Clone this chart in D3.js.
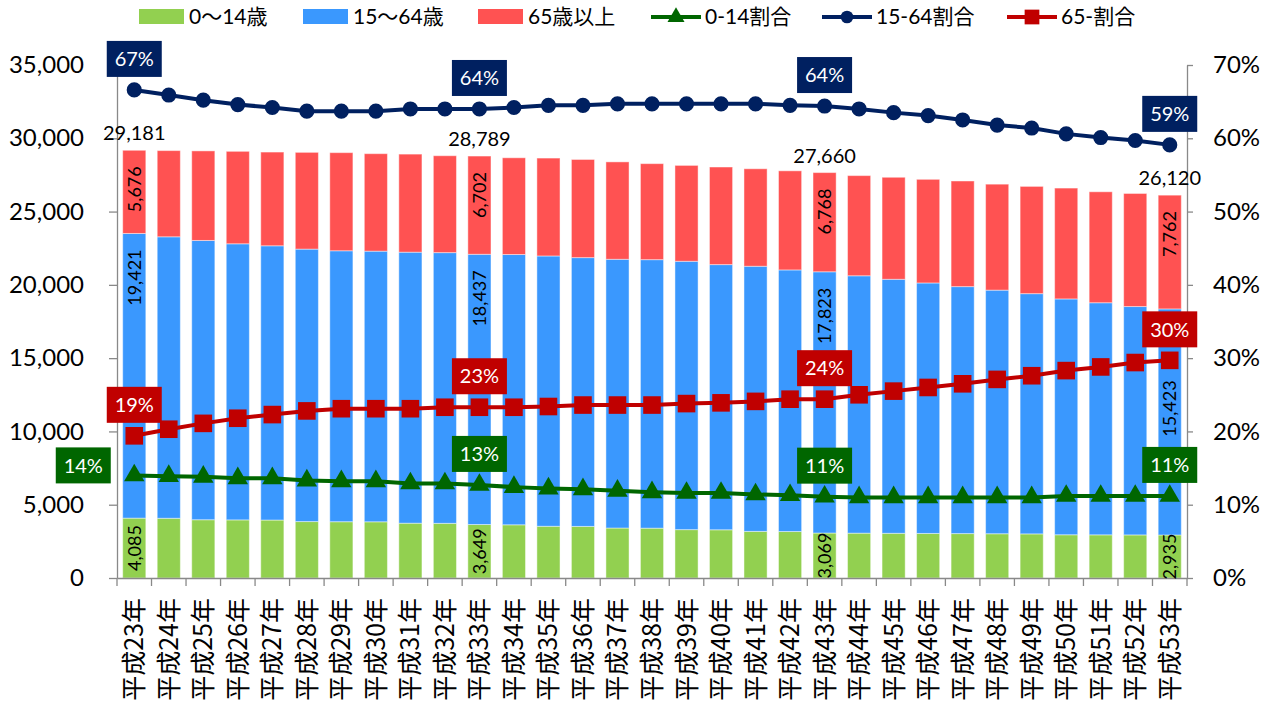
<!DOCTYPE html>
<html>
<head>
<meta charset="utf-8">
<script src="https://cdn.jsdelivr.net/npm/d3@7"></script>
<style>
  body { margin: 0; background: #fff; }
  svg text { font-family: "Lato", "Noto Sans CJK JP", sans-serif; fill: #000; }
  svg .cjk { font-family: "Noto Sans CJK JP", sans-serif; }
</style>
</head>
<body>
<div id="chart"></div>
<script>
// data (thousand people)
var years = ["平成23年","平成24年","平成25年","平成26年","平成27年","平成28年","平成29年","平成30年",
  "平成31年","平成32年","平成33年","平成34年","平成35年","平成36年","平成37年","平成38年","平成39年",
  "平成40年","平成41年","平成42年","平成43年","平成44年","平成45年","平成46年","平成47年","平成48年",
  "平成49年","平成50年","平成51年","平成52年","平成53年"];

var age0to14 = [4085, 4075, 3975, 3965, 3955, 3850, 3840, 3835, 3740, 3730, 3649, 3630, 3530, 3520,
  3410, 3400, 3300, 3290, 3180, 3170, 3069, 3060, 3050, 3040, 3030, 3020, 3010, 2950, 2945, 2940, 2935];

var age15to64 = [19421, 19204, 19054, 18837, 18711, 18589, 18486, 18465, 18490, 18470, 18437, 18440,
  18442, 18339, 18335, 18320, 18309, 18092, 18089, 17849, 17823, 17560, 17330, 17090, 16850, 16620,
  16390, 16090, 15835, 15580, 15423];

var age65over = [5676, 5881, 6111, 6308, 6394, 6601, 6694, 6650, 6690, 6610, 6702, 6600, 6678, 6696,
  6645, 6550, 6541, 6658, 6651, 6761, 6768, 6834, 6960, 7070, 7206, 7230, 7318, 7563, 7570, 7715, 7762];

var totals = [29181, 29160, 29140, 29110, 29060, 29040, 29020, 28950, 28920, 28810, 28789, 28670,
  28650, 28555, 28390, 28270, 28150, 28040, 27920, 27780, 27660, 27454, 27340, 27200, 27086, 26870,
  26718, 26603, 26350, 26235, 26120];

// ratios (%)
var ratio0to14 = [14.0, 13.9, 13.8, 13.6, 13.6, 13.3, 13.2, 13.2, 12.9, 12.9, 12.7, 12.4, 12.2, 12.1,
  11.9, 11.7, 11.6, 11.6, 11.4, 11.3, 11.1, 11.0, 11.0, 11.0, 11.0, 11.0, 11.0, 11.2, 11.2, 11.2, 11.2];

var ratio15to64 = [66.6, 65.9, 65.2, 64.6, 64.2, 63.7, 63.7, 63.7, 64.0, 64.0, 64.0, 64.2, 64.5, 64.5,
  64.7, 64.7, 64.7, 64.7, 64.7, 64.5, 64.4, 64.0, 63.5, 63.1, 62.5, 61.8, 61.4, 60.6, 60.1, 59.7, 59.1];

var ratio65over = [19.4, 20.3, 21.1, 21.8, 22.3, 22.8, 23.1, 23.1, 23.1, 23.3, 23.3, 23.3, 23.4, 23.6,
  23.6, 23.6, 23.8, 23.9, 24.1, 24.4, 24.4, 25.0, 25.5, 26.0, 26.5, 27.1, 27.6, 28.3, 28.8, 29.4, 29.7];

var barNames = ["0～14歳", "15～64歳", "65歳以上"];
var lineNames = ["0-14割合", "15-64割合", "65-割合"];
var yTicks = [0, 5000, 10000, 15000, 20000, 25000, 30000, 35000];
var pctTicks = [0, 10, 20, 30, 40, 50, 60, 70];
var labelIdx = [0, 10, 20, 30];

var barColors = ["#92D050", "#3A98FE", "#FF5252"];
var lineColors = ["#006600", "#002060", "#C00000"];

// set the dimensions and margins of the graph
var margin = {top: 65, right: 87, bottom: 133, left: 117},
    width = 1274 - margin.left - margin.right,
    height = 711 - margin.top - margin.bottom;

var x = d3.scaleBand().domain(years).range([0, width]).paddingInner(0.33).paddingOuter(0.165);
var y = d3.scaleLinear().domain([0, 35000]).range([height, 0]);
var y2 = d3.scaleLinear().domain([0, 70]).range([height, 0]);
var cx = function(i) { return x(years[i]) + x.bandwidth() / 2; };

var root = d3.select("#chart").append("svg")
    .attr("width", 1274)
    .attr("height", 711);

var svg = root.append("g")
    .attr("transform", "translate(" + margin.left + "," + margin.top + ")");

// stacked bars
var table = years.map(function(d, i) {
  return {year: d, a: age0to14[i], b: age15to64[i], c: age65over[i], total: totals[i], i: i};
});
var series = d3.stack().keys(["a", "b", "c"])(table);

var layer = svg.selectAll(".layer")
    .data(series)
    .enter().append("g")
    .attr("class", "layer")
    .attr("fill", function(d, k) { return barColors[k]; });

layer.selectAll("rect")
    .data(function(d) { return d; })
    .enter().append("rect")
    .attr("x", function(d) { return x(d.data.year); })
    .attr("width", x.bandwidth())
    .attr("y", function(d) { return y(d[1]); })
    .attr("height", function(d) { return y(d[0]) - y(d[1]); })
    .attr("stroke", "#ffffff")
    .attr("stroke-opacity", 0.45)
    .attr("stroke-width", 1);

// axes
var gray = "#898989";

var left = svg.append("g")
    .call(d3.axisLeft(y).tickValues(yTicks).tickSize(8).tickSizeOuter(0).tickPadding(25)
      .tickFormat(d3.format(",")));
var right = svg.append("g")
    .attr("transform", "translate(" + width + ",0)")
    .call(d3.axisRight(y2).tickValues(pctTicks).tickSize(6).tickSizeOuter(0).tickPadding(20)
      .tickFormat(function(d) { return d + "%"; }));
[left, right].forEach(function(g) {
  g.selectAll("path, line").attr("stroke", gray).attr("stroke-width", 1.3);
  g.selectAll("text").style("font-size", "24px").attr("fill", "#000");
});

var bottom = svg.append("g")
    .attr("transform", "translate(0," + height + ")")
    .call(d3.axisBottom(x).tickSize(0).tickSizeOuter(0));
bottom.select(".domain").attr("stroke", gray).attr("stroke-width", 1.3);
bottom.selectAll("text")
    .attr("class", "cjk")
    .style("font-size", "25px")
    .attr("fill", "#000")
    .attr("transform", "rotate(-90)")
    .attr("x", -20)
    .attr("y", 0)
    .attr("dy", "0.36em")
    .style("text-anchor", "end");
bottom.selectAll(".bound")
    .data(d3.range(years.length + 1))
    .enter().append("line")
    .attr("class", "bound")
    .attr("x1", function(d) { return d * x.step(); })
    .attr("x2", function(d) { return d * x.step(); })
    .attr("y1", 0)
    .attr("y2", 8)
    .attr("stroke", gray)
    .attr("stroke-width", 1.3);

// bar value labels
var rot = function(px, py) { return "translate(" + px + "," + py + ") rotate(-90)"; };
var labelRows = labelIdx.map(function(i) { return table[i]; });

svg.selectAll(".lblA")
    .data(labelRows)
    .enter().append("text")
    .attr("transform", function(d) { return rot(cx(d.i), y(d.a / 2)); })
    .attr("dy", "0.35em")
    .style("text-anchor", "middle")
    .style("font-size", "18px")
    .text(function(d) { return d3.format(",")(d.a); });

svg.selectAll(".lblB")
    .data(labelRows)
    .enter().append("text")
    .attr("transform", function(d) {
      var top = y(d.a + d.b) + 16;
      if (d.i === years.length - 1) top = y2(ratio65over[d.i]) + 20;
      return rot(cx(d.i), top);
    })
    .attr("dy", "0.35em")
    .style("text-anchor", "end")
    .style("font-size", "18px")
    .text(function(d) { return d3.format(",")(d.b); });

svg.selectAll(".lblC")
    .data(labelRows)
    .enter().append("text")
    .attr("transform", function(d) { return rot(cx(d.i), y(d.a + d.b + d.c) + 16); })
    .attr("dy", "0.35em")
    .style("text-anchor", "end")
    .style("font-size", "18px")
    .text(function(d) { return d3.format(",")(d.c); });

svg.selectAll(".lblT")
    .data(labelRows)
    .enter().append("text")
    .attr("x", function(d) { return cx(d.i); })
    .attr("y", function(d) { return y(d.total) - 17; })
    .attr("dy", "0.35em")
    .style("text-anchor", "middle")
    .style("font-size", "20px")
    .text(function(d) { return d3.format(",")(d.total); });

// ratio lines
var ratios = [ratio0to14, ratio15to64, ratio65over];
var symbols = [d3.symbolTriangle, d3.symbolCircle, d3.symbolSquare];
var symSize = [180, 180, 310];
var line = d3.line()
    .x(function(d, i) { return cx(i); })
    .y(function(d) { return y2(d); });

ratios.forEach(function(r, k) {
  svg.append("path")
      .datum(r)
      .attr("fill", "none")
      .attr("stroke", lineColors[k])
      .attr("stroke-width", 4)
      .attr("d", line);
  svg.selectAll(".mk" + k)
      .data(r)
      .enter().append("path")
      .attr("transform", function(d, i) { return "translate(" + cx(i) + "," + y2(d) + ")"; })
      .attr("d", d3.symbol().type(symbols[k]).size(symSize[k]))
      .attr("fill", lineColors[k]);
});

// ratio labels in boxes
ratios.forEach(function(r, k) {
  var g = svg.selectAll(".box" + k)
      .data(labelIdx)
      .enter().append("g")
      .attr("transform", function(i) {
        var px = cx(i), py = y2(r[i]) - 31;
        if (k === 0 && i === 0) { px = cx(i) - 51; py = y2(r[i]) - 10; }
        return "translate(" + px + "," + py + ")";
      });
  g.append("rect")
      .attr("x", -27.5)
      .attr("y", -18)
      .attr("width", 55)
      .attr("height", 36)
      .attr("fill", lineColors[k]);
  g.append("text")
      .attr("dy", "0.36em")
      .style("text-anchor", "middle")
      .style("font-size", "20px")
      .style("fill", "#fff")
      .text(function(i) { return Math.round(r[i]) + "%"; });
});

// legend
var barLegendX = [139, 303, 478];
var lineLegendX = [651, 822, 1007];

var bl = root.selectAll(".bleg")
    .data(barNames)
    .enter().append("g")
    .attr("transform", function(d, k) { return "translate(" + barLegendX[k] + ",17)"; });
bl.append("rect")
    .attr("x", 0).attr("y", -8).attr("width", 45).attr("height", 15)
    .attr("fill", function(d, k) { return barColors[k]; });
bl.append("text")
    .attr("x", 50)
    .attr("dy", "0.35em")
    .style("font-size", "21px")
    .text(function(d) { return d; });

var ll = root.selectAll(".lleg")
    .data(lineNames)
    .enter().append("g")
    .attr("transform", function(d, k) { return "translate(" + lineLegendX[k] + ",17)"; });
ll.append("line")
    .attr("x1", 0).attr("x2", 50)
    .attr("stroke", function(d, k) { return lineColors[k]; })
    .attr("stroke-width", 4);
ll.append("path")
    .attr("transform", "translate(25,0)")
    .attr("d", function(d, k) { return d3.symbol().type(symbols[k]).size(symSize[k] * 0.7)(); })
    .attr("fill", function(d, k) { return lineColors[k]; });
ll.append("text")
    .attr("x", 54)
    .attr("dy", "0.35em")
    .style("font-size", "21px")
    .text(function(d) { return d; });
</script>
</body>
</html>
